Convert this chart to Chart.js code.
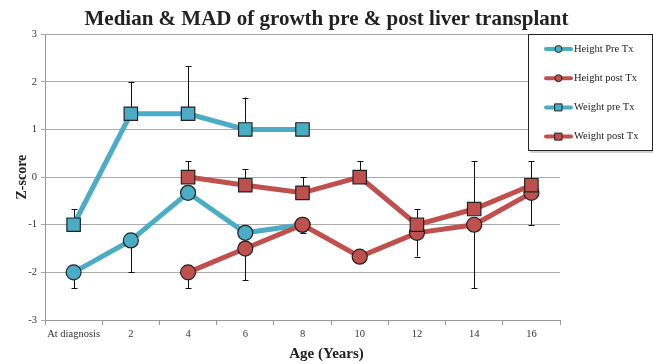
<!DOCTYPE html>
<html>
<head>
<meta charset="utf-8">
<script src="https://cdn.jsdelivr.net/npm/chart.js@4.4.1/dist/chart.umd.min.js"></script>
<style>
  html, body { margin: 0; padding: 0; background: #fff; }
  #wrap { width: 653px; height: 364px; }
</style>
</head>
<body>
<div id="wrap"><canvas id="chart"></canvas></div>
<script>
const ageLabels = ['At diagnosis', '2', '4', '6', '8', '10', '12', '14', '16']

// medians (z-score)
const heightPre  = [-2, -1.33, -0.33, -1.17, -1, null, null, null, null]
const heightPost = [null, null, -2, -1.5, -1, -1.67, -1.17, -1, -0.33]
const weightPre  = [-1, 1.33, 1.33, 1, 1, null, null, null, null]
const weightPost = [null, null, 0, -0.17, -0.33, 0, -1, -0.67, -0.17]

// MAD, drawn one way only (negative = below the point)
const heightPreMad  = [-0.33, -0.67, 0, -0.33, 0, 0, 0, 0, 0]
const heightPostMad = [0, 0, -0.33, -0.67, -0.17, 0, -0.5, -1.33, -0.67]
const weightPreMad  = [0.33, 0.67, 1, 0.67, 0, 0, 0, 0, 0]
const weightPostMad = [0, 0, 0.33, 0.33, 0.33, 0.33, 0.33, 1, 0.5]

const blue = '#4bacc6'
const red = '#c0504d'
const serif = "'Liberation Serif', 'Times New Roman', serif"

function series(label, data, mad, color, shape, order) {
  return {
    label: label,
    data: data,
    mad: mad,
    borderColor: color,
    backgroundColor: color,
    borderWidth: 5,
    pointStyle: shape,
    pointRadius: shape === 'rect' ? 9.5 : 7.5,
    pointBorderColor: '#222',
    pointBorderWidth: 1.2,
    pointBackgroundColor: color,
    spanGaps: false,
    order: order
  }
}

// error bars, drawn under the lines
const madBars = {
  id: 'madBars',
  beforeDatasetsDraw(chart) {
    const ctx = chart.ctx
    const xs = chart.scales.x
    const ys = chart.scales.y
    ctx.save()
    ctx.strokeStyle = '#111'
    ctx.lineWidth = 1
    chart.data.datasets.forEach(ds => {
      ds.data.forEach((v, i) => {
        const e = ds.mad[i]
        if (v === null || !e) return
        const x = Math.round(xs.getPixelForValue(i)) + 0.5
        const y0 = ys.getPixelForValue(v)
        const y1 = ys.getPixelForValue(v + e)
        ctx.beginPath()
        ctx.moveTo(x, y0)
        ctx.lineTo(x, y1)
        ctx.moveTo(x - 3, Math.round(y1) + 0.5)
        ctx.lineTo(x + 3, Math.round(y1) + 0.5)
        ctx.stroke()
      })
    })
    ctx.restore()
  }
}

// boxed legend in the top right corner
const boxLegend = {
  id: 'boxLegend',
  afterDraw(chart) {
    const ctx = chart.ctx
    ctx.save()
    ctx.fillStyle = 'rgba(0,0,0,0.18)'
    ctx.fillRect(530, 36, 124, 117)
    ctx.fillStyle = '#fff'
    ctx.fillRect(528, 34, 124, 117)
    ctx.strokeStyle = '#222'
    ctx.lineWidth = 1
    ctx.strokeRect(528.5, 34.5, 124, 116)
    chart.data.datasets.forEach((ds, n) => {
      const y = 49 + n * 29.2
      ctx.strokeStyle = ds.borderColor
      ctx.lineWidth = 4
      ctx.lineCap = 'round'
      ctx.beginPath()
      ctx.moveTo(546, y)
      ctx.lineTo(571, y)
      ctx.stroke()
      ctx.fillStyle = ds.borderColor
      ctx.strokeStyle = '#222'
      ctx.lineWidth = 1
      ctx.beginPath()
      if (ds.pointStyle === 'rect') {
        ctx.rect(555, y - 3.5, 7, 7)
      } else {
        ctx.arc(558.5, y, 3.5, 0, Math.PI * 2)
      }
      ctx.fill()
      ctx.stroke()
      ctx.fillStyle = '#222'
      ctx.font = '10.5px ' + serif
      ctx.textBaseline = 'middle'
      ctx.fillText(ds.label, 574, y)
    })
    ctx.restore()
  }
}

new Chart(document.getElementById('chart'), {
  type: 'line',
  data: {
    labels: ageLabels,
    datasets: [
      series('Height Pre Tx', heightPre, heightPreMad, blue, 'circle', 4),
      series('Height post Tx', heightPost, heightPostMad, red, 'circle', 3),
      series('Weight pre Tx', weightPre, weightPreMad, blue, 'rect', 2),
      series('Weight post Tx', weightPost, weightPostMad, red, 'rect', 1)
    ]
  },
  options: {
    responsive: true,
    maintainAspectRatio: false,
    animation: false,
    plugins: {
      legend: { display: false },
      tooltip: { enabled: false },
      title: {
        display: true,
        text: 'Median & MAD of growth pre & post liver transplant',
        color: '#222',
        font: { family: serif, size: 21, weight: 'bold' },
        padding: { top: 7, bottom: 2 }
      },
      subtitle: {
        display: true,
        position: 'bottom',
        text: 'Age (Years)',
        color: '#222',
        font: { family: serif, size: 15, weight: 'bold' },
        padding: { top: 0, bottom: 1 }
      }
    },
    scales: {
      x: {
        offset: true,
        grid: { offset: true, drawOnChartArea: false, tickLength: 5, color: '#999' },
        border: { color: '#999' },
        ticks: { color: '#333', font: { family: serif, size: 10.5 }, padding: 3, maxRotation: 0, autoSkip: false },
        afterFit(scale) { scale.height = 25 }
      },
      y: {
        min: -3,
        max: 3,
        ticks: { stepSize: 1, color: '#333', font: { family: serif, size: 10.5 }, padding: 4 },
        grid: { color: '#aaa', tickLength: 4 },
        border: { color: '#999' },
        title: {
          display: true,
          text: 'Z-score',
          color: '#222',
          font: { family: serif, size: 14, weight: 'bold' },
          padding: { top: 14, bottom: 0 }
        },
        afterFit(scale) { scale.width = 45 }
      },
      // empty right-hand strip that holds the legend box
      side: {
        type: 'linear',
        position: 'right',
        grid: { display: false },
        border: { display: false },
        ticks: { display: false },
        afterFit(scale) { scale.width = 93 }
      }
    }
  },
  plugins: [madBars, boxLegend]
})
</script>
</body>
</html>
